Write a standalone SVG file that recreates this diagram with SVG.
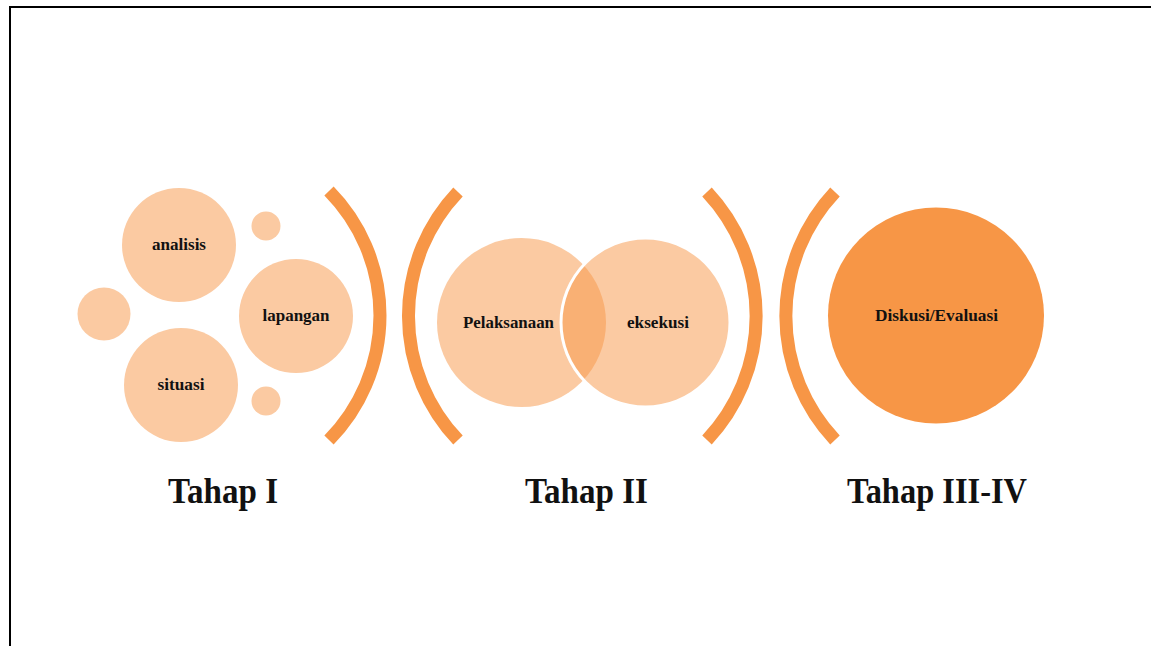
<svg xmlns="http://www.w3.org/2000/svg" width="1151" height="646" viewBox="0 0 1151 646">
<style>
.lt{fill:#FBCAA2}
.br{fill:none;stroke:#F79646;stroke-width:13;stroke-linecap:butt}
.s{font-family:"Liberation Serif","Times New Roman",serif;font-weight:bold;font-size:16px;fill:#111;text-anchor:middle}
.b{font-family:"Liberation Serif","Times New Roman",serif;font-weight:bold;font-size:35px;fill:#111;text-anchor:middle}
</style>
<rect width="1151" height="646" fill="#fff"/>
<path d="M10 646 V7 H1151" fill="none" stroke="#000" stroke-width="2"/>
<g id="stage1">
  <circle class="lt" cx="179" cy="245" r="57"/>
  <circle class="lt" cx="104" cy="314" r="26.5"/>
  <circle class="lt" cx="181" cy="385" r="57"/>
  <circle class="lt" cx="296" cy="316" r="57"/>
  <circle class="lt" cx="266" cy="226" r="14.5"/>
  <circle class="lt" cx="266" cy="401" r="14.5"/>
  <text class="s" x="179" y="250" textLength="54" lengthAdjust="spacingAndGlyphs">analisis</text>
  <text class="s" x="181" y="390" textLength="47" lengthAdjust="spacingAndGlyphs">situasi</text>
  <text class="s" x="296" y="321" textLength="67" lengthAdjust="spacingAndGlyphs">lapangan</text>
  <path class="br" d="M329 191 A177.5 177.5 0 0 1 329 440"/>
  <text class="b" x="223" y="503" textLength="110" lengthAdjust="spacingAndGlyphs">Tahap I</text>
</g>
<g id="stage2">
  <path class="br" d="M458 192 A180 180 0 0 0 458 440"/>
  <circle cx="521.5" cy="322.5" r="84.5" fill="#F79646" fill-opacity="0.5"/>
  <circle cx="645.5" cy="322.5" r="84.5" fill="#F79646" fill-opacity="0.5" stroke="#fff" stroke-width="3"/>
  <text class="s" x="508.5" y="328" textLength="91" lengthAdjust="spacingAndGlyphs">Pelaksanaan</text>
  <text class="s" x="658" y="328" textLength="62" lengthAdjust="spacingAndGlyphs">eksekusi</text>
  <path class="br" d="M707 192 A181 181 0 0 1 707 440"/>
  <text class="b" x="586.5" y="503" textLength="123" lengthAdjust="spacingAndGlyphs">Tahap II</text>
</g>
<g id="stage3">
  <path class="br" d="M835 192 A181 181 0 0 0 835 440"/>
  <circle cx="936" cy="315.5" r="108" fill="#F79646"/>
  <text class="s" x="936.5" y="321" textLength="123" lengthAdjust="spacingAndGlyphs">Diskusi/Evaluasi</text>
  <text class="b" x="937" y="503" textLength="180" lengthAdjust="spacingAndGlyphs">Tahap III-IV</text>
</g>
<g id="connectors"/>
</svg>
